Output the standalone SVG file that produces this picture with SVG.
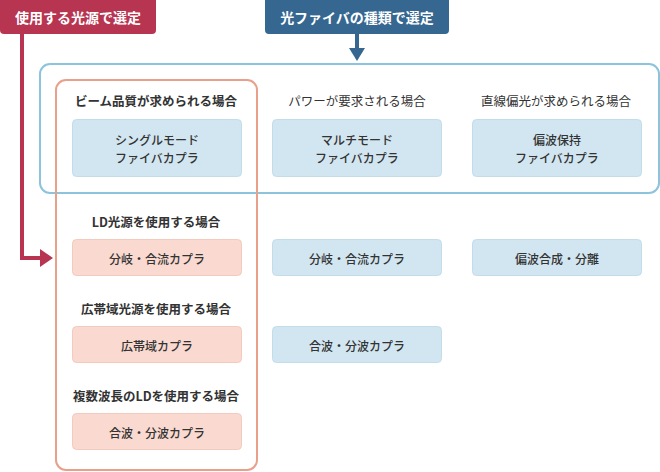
<svg xmlns="http://www.w3.org/2000/svg" width="660" height="472" viewBox="0 0 660 472">
<style>
text{font-family:"Noto Sans CJK JP","Noto Sans",sans-serif;text-anchor:middle;dominant-baseline:central;fill:#333}
.tag{fill:#fff;font-weight:bold;font-size:14px}
.hd{font-size:12.5px}
.hdb{font-size:12.5px;font-weight:bold}
.bx{font-size:12px;font-weight:500}
.blue{fill:#d2e6f1;stroke:#c3dcea;stroke-width:1}
.pink{fill:#f9d9d0;stroke:#f2cabe;stroke-width:1}
</style>
<defs>
<marker id="ar" viewBox="0 0 10 10" refX="10" refY="5" markerWidth="3.2" markerHeight="4" orient="auto" markerUnits="strokeWidth"><path d="M0,0L10,5L0,10z" fill="context-stroke"/></marker>
</defs>
<g id="frames">
<rect x="40" y="64" width="619" height="129" rx="10" fill="none" stroke="#8cc4de" stroke-width="2"/>
<rect x="56" y="80" width="201" height="390" rx="10" fill="none" stroke="#e9a08b" stroke-width="2"/>
</g>
<g id="connectors">
<path d="M22,34V258H42" fill="none" stroke="#b83552" stroke-width="4"/>
<path d="M40,249L53,258L40,267z" fill="#b83552"/>
<path d="M357,34V49" fill="none" stroke="#356791" stroke-width="4"/>
<path d="M349,48L365,48L357,61z" fill="#356791"/>
</g>
<g id="tag-source">
<path d="M0,0H156V30Q156,34 152,34H4Q0,34 0,30z" fill="#b83552"/>
<text class="tag" x="78" y="17">使用する光源で選定</text>
</g>
<g id="tag-fiber">
<path d="M265,0H449V30Q449,34 445,34H269Q265,34 265,30z" fill="#356791"/>
<text class="tag" x="357" y="17">光ファイバの種類で選定</text>
</g>
<g id="h1"><text class="hdb" x="156" y="100">ビーム品質が求められる場合</text></g>
<g id="h2"><text class="hd" x="357" y="100">パワーが要求される場合</text></g>
<g id="h3"><text class="hd" x="556" y="100">直線偏光が求められる場合</text></g>
<g id="n-sm"><rect class="blue" x="72.5" y="119.5" width="169" height="57" rx="4"/><text class="bx" x="157" y="139">シングルモード</text><text class="bx" x="157" y="157">ファイバカプラ</text></g>
<g id="n-mm"><rect class="blue" x="272.5" y="119.5" width="169" height="57" rx="4"/><text class="bx" x="357" y="139">マルチモード</text><text class="bx" x="357" y="157">ファイバカプラ</text></g>
<g id="n-pm"><rect class="blue" x="472.5" y="119.5" width="169" height="57" rx="4"/><text class="bx" x="557" y="139">偏波保持</text><text class="bx" x="557" y="157">ファイバカプラ</text></g>
<g id="h4"><text class="hdb" x="156" y="221">LD光源を使用する場合</text></g>
<g id="n-ld"><rect class="pink" x="72.5" y="239.5" width="169" height="36" rx="4"/><text class="bx" x="157" y="258">分岐・合流カプラ</text></g>
<g id="n-mm2"><rect class="blue" x="272.5" y="239.5" width="169" height="36" rx="4"/><text class="bx" x="357" y="258">分岐・合流カプラ</text></g>
<g id="n-pm2"><rect class="blue" x="472.5" y="239.5" width="169" height="36" rx="4"/><text class="bx" x="557" y="258">偏波合成・分離</text></g>
<g id="h5"><text class="hdb" x="156" y="308">広帯域光源を使用する場合</text></g>
<g id="n-bb"><rect class="pink" x="72.5" y="326.5" width="169" height="36" rx="4"/><text class="bx" x="157" y="345">広帯域カプラ</text></g>
<g id="n-mm3"><rect class="blue" x="272.5" y="326.5" width="169" height="36" rx="4"/><text class="bx" x="357" y="345">合波・分波カプラ</text></g>
<g id="h6"><text class="hdb" x="156" y="395">複数波長のLDを使用する場合</text></g>
<g id="n-wdm"><rect class="pink" x="72.5" y="413.5" width="169" height="36" rx="4"/><text class="bx" x="157" y="432">合波・分波カプラ</text></g>
</svg>
